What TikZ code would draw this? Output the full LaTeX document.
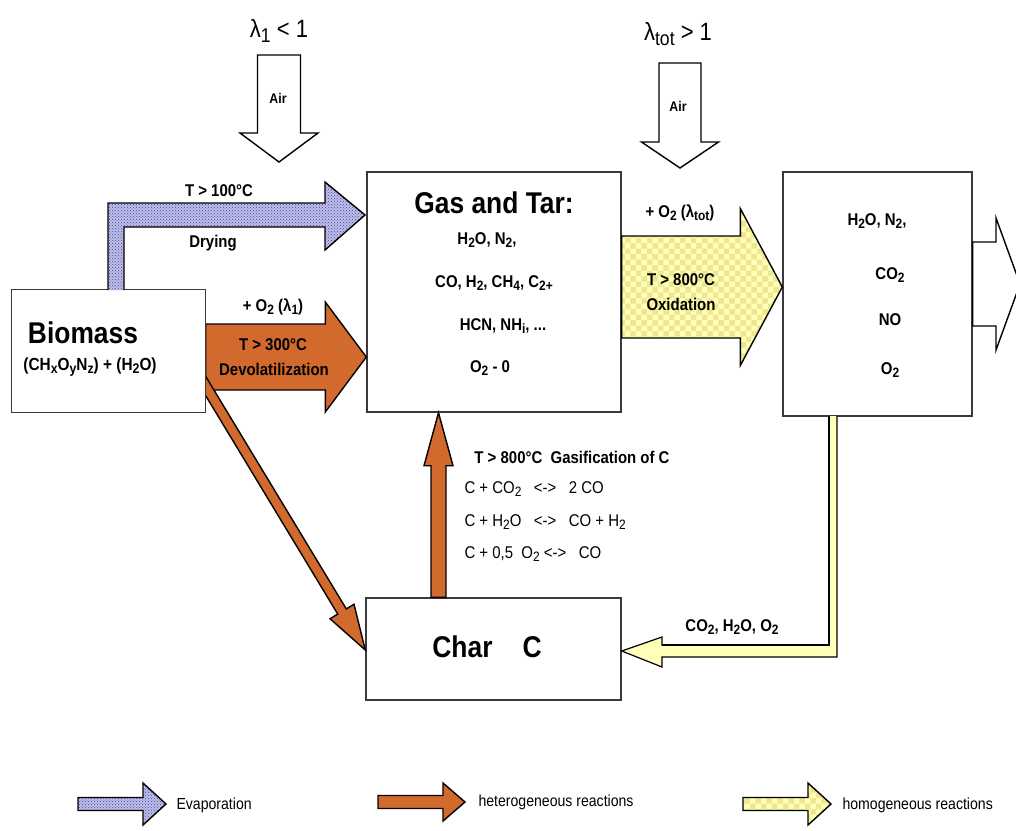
\documentclass[tikz,border=0pt]{standalone}
\usepackage{fontspec}
\setmainfont{Liberation Sans}[FakeStretch=0.88]
\usetikzlibrary{calc,patterns}
\definecolor{heat}{HTML}{D2692D}
\definecolor{evapbase}{HTML}{BEBEEA}
\definecolor{evapdot}{HTML}{46469A}
\definecolor{homog}{HTML}{FFFFB8}
\definecolor{homogdot}{HTML}{EEE690}
\definecolor{frame}{HTML}{3A3A3A}
\newcommand{\dn}[1]{\raisebox{-0.35ex}{\scalebox{0.8}{#1}}}
% [style]{from}{tip}{shaft half}{head half}{head length}
\newcommand{\fatarrow}[6][]{%
  \coordinate (fa-hb) at ($(#3)!#6!(#2)$);
  \path[#1] ($(#2)!#4!90:(#3)$) -- ($(fa-hb)!#4!90:(#3)$) -- ($(fa-hb)!#5!90:(#3)$)
    -- (#3) -- ($(fa-hb)!#5!-90:(#3)$) -- ($(fa-hb)!#4!-90:(#3)$) -- ($(#2)!#4!-90:(#3)$) -- cycle;}

\begin{document}
\begin{tikzpicture}[
        x=1pt,y=-1pt,
        font=\bfseries\fontsize{17}{18}\selectfont,
        box/.style={draw=frame,line width=1.4pt,fill=white,inner sep=0pt},
        title/.style={font=\bfseries\fontsize{30}{30}\selectfont},
        lam/.style={font=\fontsize{25}{26}\selectfont},
        eqn/.style={anchor=west,font=\fontsize{17}{18}\selectfont},
        legend/.style={anchor=west,font=\fontsize{16}{17}\selectfont},
        airarrow/.style={draw=black,line width=1.4pt,fill=white,line join=miter},
        evap/.style={draw=black,line width=1.4pt,preaction={fill=evapbase},pattern=crosshatch dots,pattern color=evapdot},
        heter/.style={draw=black,line width=1.4pt,fill=heat},
        homog/.style={draw=black,line width=1.4pt,preaction={fill=homog},pattern=checkerboard,pattern color=homogdot}
      ]
      \useasboundingbox (0,0) rectangle (1016,830);
      \clip (0,0) rectangle (1016,830);

      % boxes
      \node[box,minimum width=193pt,minimum height=122pt] (biomass) at (108.5,351) {};
      \node[box,minimum width=254pt,minimum height=240pt] (gas) at (494,292) {};
      \node[box,minimum width=189pt,minimum height=244pt] (flue) at (877.5,294) {};
      \node[box,minimum width=255pt,minimum height=102pt] (char) at (493.5,649) {};

      % anchor points of the block arrows
      \coordinate (air1-s) at (279,55);
      \coordinate (air1-t) at (279,162);
      \coordinate (air2-s) at (680,63);
      \coordinate (air2-t) at (680,168);
      \coordinate (devo-s) at (biomass.east |- 0,357);
      \coordinate (devo-t) at (gas.west |- 0,357);
      \coordinate (oxi-s) at (gas.east |- 0,287);
      \coordinate (oxi-t) at (flue.west |- 0,287);
      \coordinate (out-s) at (flue.east |- 0,284);
      \coordinate (out-t) at (1020,284);
      \coordinate (gasi-s) at (char.north -| 438.5,0);
      \coordinate (gasi-t) at (gas.south -| 438.5,0);
      \coordinate (diag-s) at (196,370);
      \coordinate (diag-t) at (char.west |- 0,650);

      \fatarrow[airarrow]{air1-s}{air1-t}{21.5pt}{39pt}{29pt}
      \fatarrow[airarrow]{air2-s}{air2-t}{21pt}{38.5pt}{26pt}
      \fatarrow[heter]{devo-s}{devo-t}{33pt}{55pt}{41pt}
      \fatarrow[homog]{oxi-s}{oxi-t}{51pt}{78.5pt}{42pt}
      \fatarrow[airarrow]{out-s}{out-t}{42pt}{66pt}{24pt}
      \fatarrow[heter]{gasi-s}{gasi-t}{7.5pt}{14.5pt}{53pt}
      \fatarrow[heter]{diag-s}{diag-t}{5pt}{14pt}{45pt}
      % biomass box again over the tail of the diagonal arrow
      \path[box] (biomass.south west) rectangle (biomass.north east);

      % drying
      \path[evap] (108,290) -- (108,203) -- (325,203) -- (325,182) -- (365,215)
        -- (325,250) -- (325,227) -- (124,227) -- (124,290);
      % recycle to char
      \path[draw=black,line width=1.2pt,fill=homog] (829,416) -- (829,645) -- (662,645) -- (662,637)
        -- (char.east |- 0,651) -- (662,667) -- (662,657) -- (837,657) -- (837,416);
      \draw[line width=2.6pt] (829,416) -- (829,645) -- (662,645);

      % texts
      \node[lam] (lam1) at (279,31) {λ\dn{1} < 1};
      \node[lam] (lamtot) at (678,34) {λ\dn{tot} > 1};
      \node[font=\bfseries\fontsize{14}{14}\selectfont] (air1) at (278,98) {Air};
      \node[font=\bfseries\fontsize{14}{14}\selectfont] (air2) at (678,106) {Air};

      \node (dryT) at (219,191) {T > 100°C};
      \node (dry) at (213,243) {Drying};
      \node (devoO) at (273,307) {+ O\dn{2} (λ\dn{1})};
      \node (devoT) at (273,345) {T > 300°C};
      \node (devo) at (274,369) {Devolatilization};

      \node[title] (biot) at (83,333) {Biomass};
      \node[font=\bfseries\fontsize{17.5}{18}\selectfont] (bioc) at (90,367) {(CH\dn{x}O\dn{y}N\dn{z}) + (H\dn{2}O)};

      \node[title] (gast) at (494,203) {Gas and Tar:};
      \node (gas1) at (487,240) {H\dn{2}O, N\dn{2},};
      \node (gas2) at (494,283) {CO, H\dn{2}, CH\dn{4}, C\dn{2+}};
      \node (gas3) at (503,326) {HCN, NH\dn{i}, ...};
      \node (gas4) at (490,368) {O\dn{2} - 0};

      \node (oxiO) at (680,213) {+ O\dn{2} (λ\dn{tot})};
      \node (oxiT) at (681,280) {T > 800°C};
      \node (oxi) at (681,304) {Oxidation};

      \node (flue1) at (877,221) {H\dn{2}O, N\dn{2},};
      \node (flue2) at (890,275) {CO\dn{2}};
      \node (flue3) at (890,320) {NO};
      \node (flue4) at (890,370) {O\dn{2}};

      \node (gasiT) at (572,457) {T > 800°C\ \ Gasification of C};
      \node[eqn] (eq1) at (461,489) {C + CO\dn{2}\ \ \ <->\ \ \ 2 CO};
      \node[eqn] (eq2) at (461,522) {C + H\dn{2}O\ \ \ <->\ \ \ CO + H\dn{2}};
      \node[eqn] (eq3) at (461,554) {C + 0,5\ \ O\dn{2}\ <->\ \ \ CO};
      \node (recy) at (732,627) {CO\dn{2}, H\dn{2}O, O\dn{2}};
      \node[title] (chart) at (487,647) {Char\quad C};

      % legend
      \coordinate (lg1-s) at (78,804);
      \coordinate (lg1-t) at (166,804);
      \coordinate (lg2-s) at (378,802);
      \coordinate (lg2-t) at (465,802);
      \coordinate (lg3-s) at (743,804);
      \coordinate (lg3-t) at (831,804);
      \fatarrow[evap]{lg1-s}{lg1-t}{6.5pt}{21pt}{23pt}
      \fatarrow[heter]{lg2-s}{lg2-t}{6.5pt}{19pt}{22pt}
      \fatarrow[homog]{lg3-s}{lg3-t}{6.5pt}{21pt}{23pt}
      \node[legend] (lg1) at ($(lg1-t)+(7,1)$) {Evaporation};
      \node[legend] (lg2) at ($(lg2-t)+(10,0)$) {heterogeneous reactions};
      \node[legend] (lg3) at ($(lg3-t)+(8,1)$) {homogeneous reactions};
    \end{tikzpicture}
\end{document}
